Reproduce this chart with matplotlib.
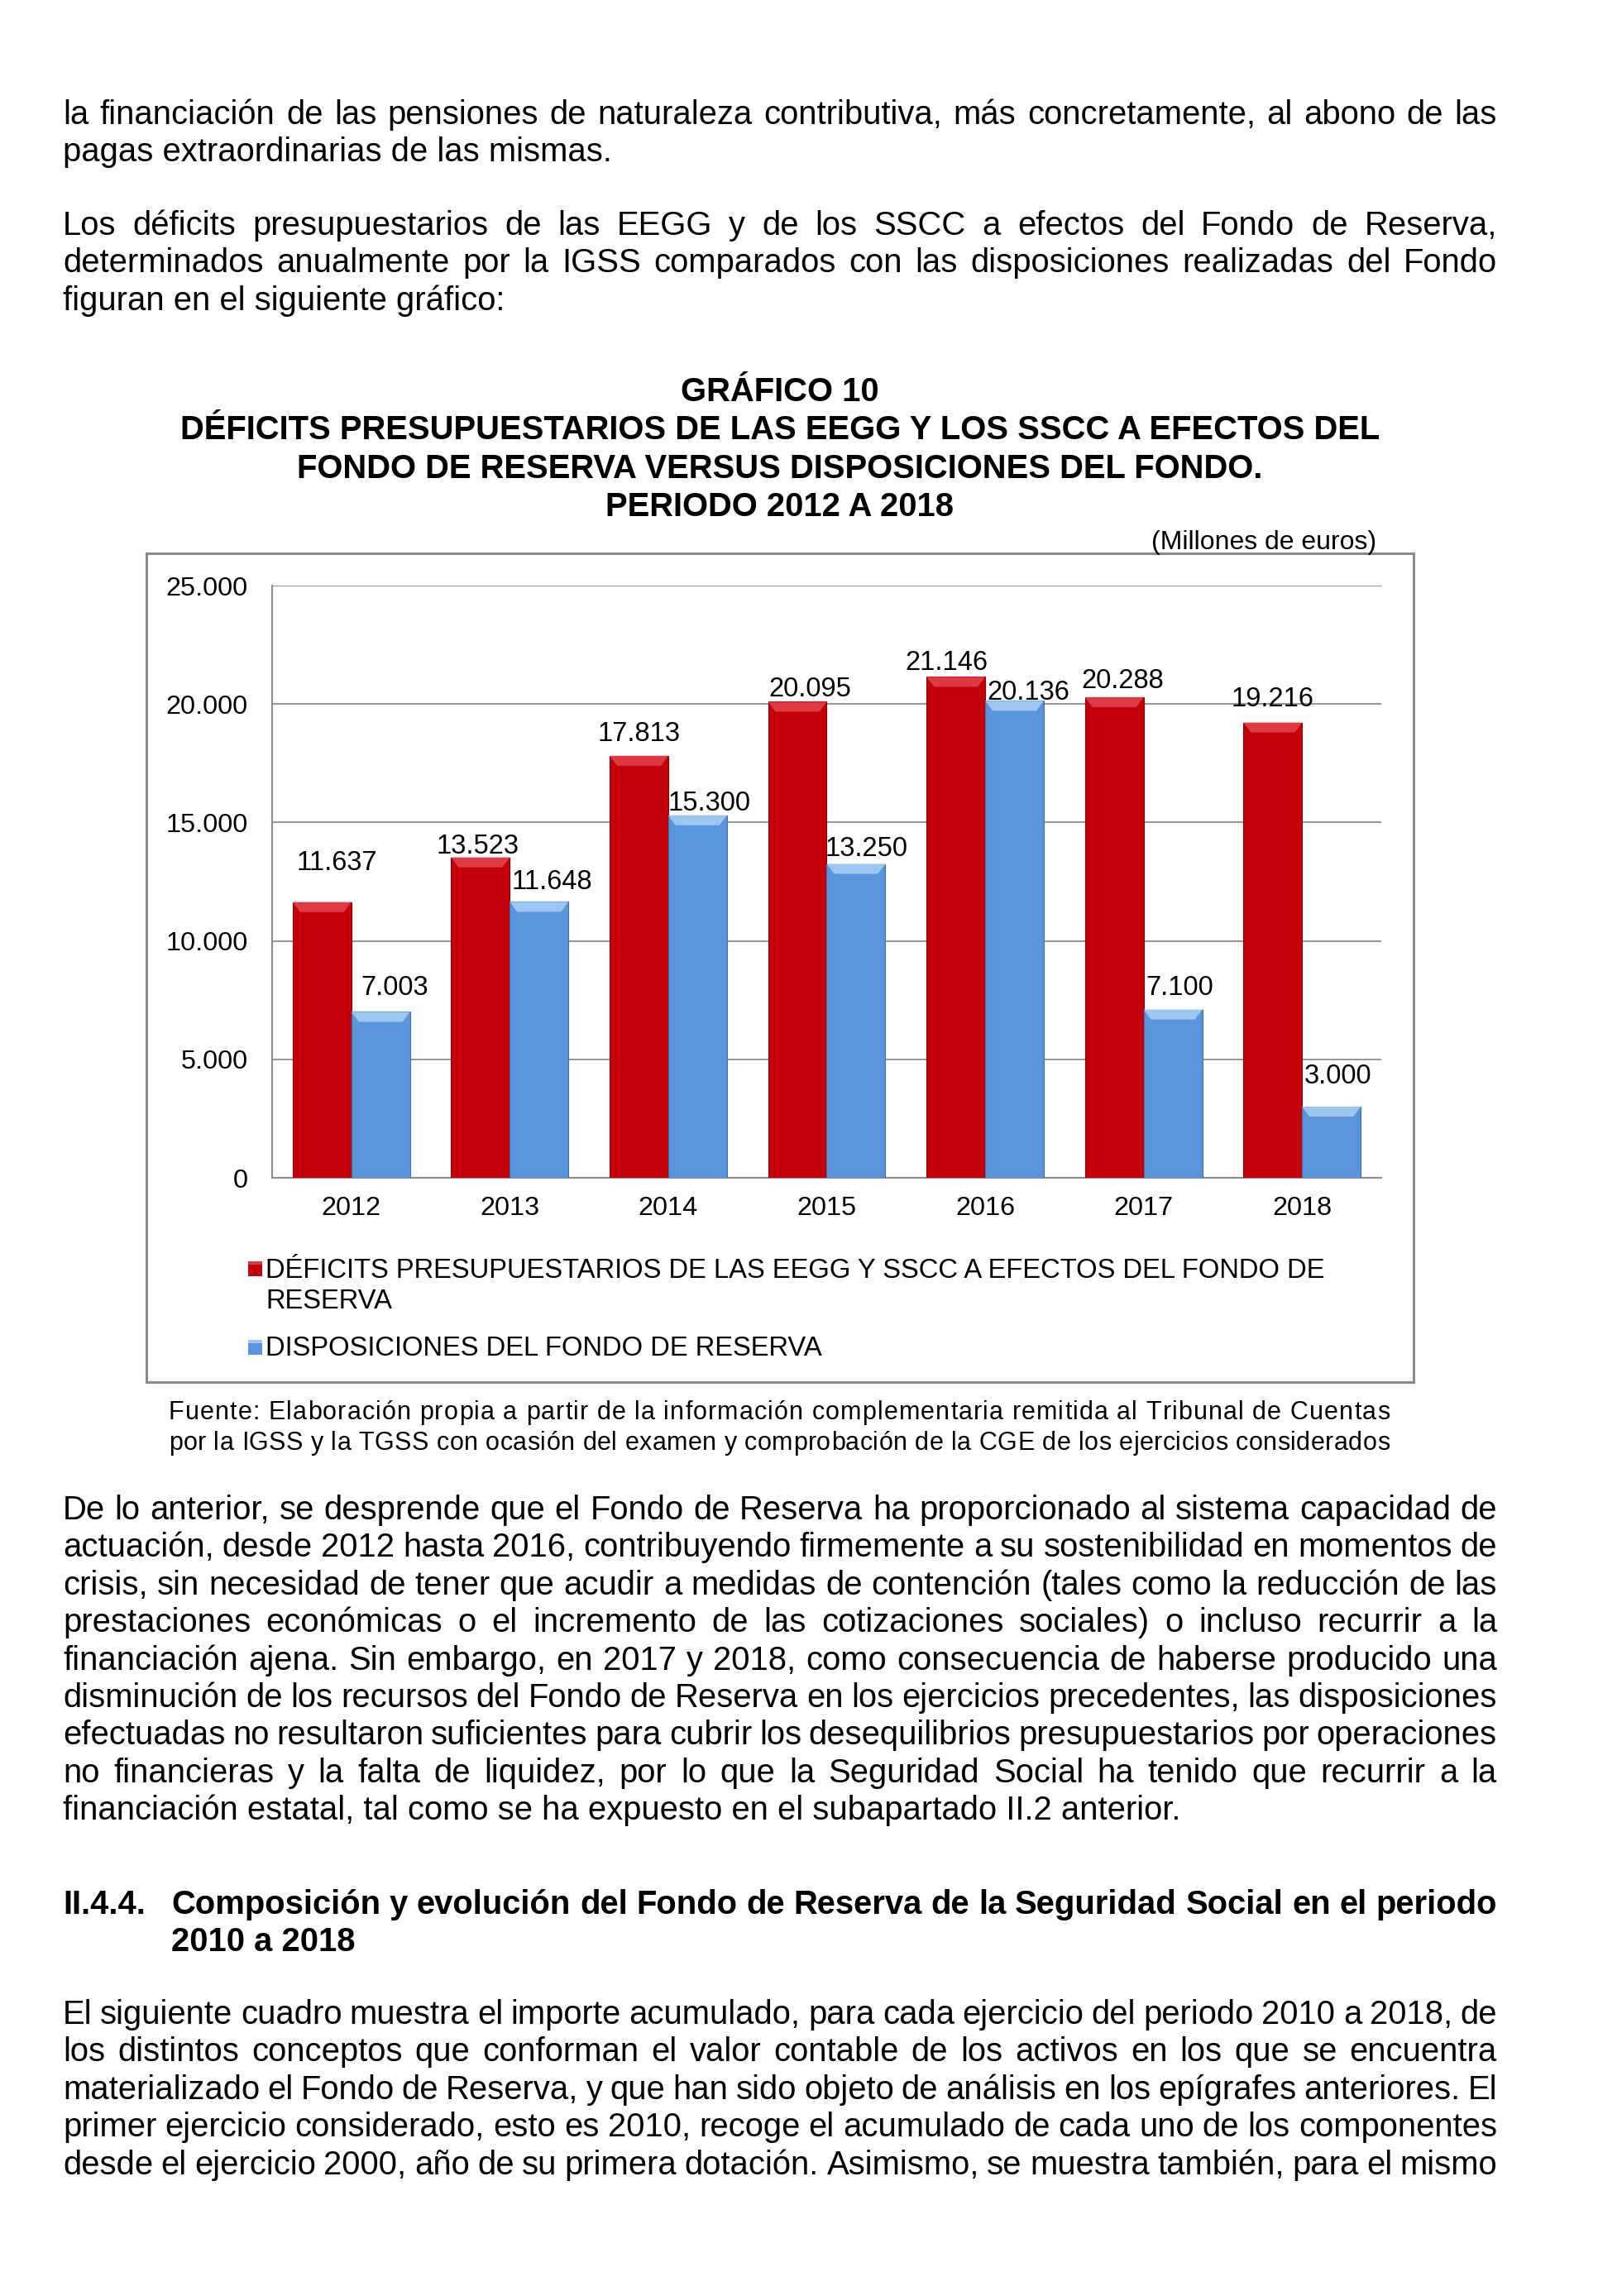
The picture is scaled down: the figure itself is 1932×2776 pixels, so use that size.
import matplotlib
matplotlib.use('Agg')
import matplotlib.pyplot as plt
import numpy as np
from matplotlib.patches import Rectangle, Polygon
from matplotlib.font_manager import findfont, FontProperties
from matplotlib.ft2font import FT2Font

plt.rcParams['font.family'] = ['Liberation Sans', 'DejaVu Sans']

# ---- chart data (millones de euros)
years = ['2012', '2013', '2014', '2015', '2016', '2017', '2018']
deficits = [11637, 13523, 17813, 20095, 21146, 20288, 19216]
disposiciones = [7003, 11648, 15300, 13250, 20136, 7100, 3000]
y_ticks = [0, 5000, 10000, 15000, 20000, 25000]

serie_deficit = 'DÉFICITS PRESUPUESTARIOS DE LAS EEGG Y SSCC A EFECTOS DEL FONDO DE'
serie_deficit_2 = 'RESERVA'
serie_dispos = 'DISPOSICIONES DEL FONDO DE RESERVA'

# label nudges (pixels) as placed in the original chart
red_nudge = [(18, -50), (-3, -16), (0, -29), (15, -18), (-11, -20), (10, -22), (0, -31)]
blue_nudge = [(17, -32), (16, -27), (14, -17), (13, -21), (17, -13), (8, -29), (8, -40)]

# ---- page text
para1 = ['la financiación de las pensiones de naturaleza contributiva, más concretamente, al abono de las',
         'pagas extraordinarias de las mismas.']
para2 = ['Los déficits presupuestarios de las EEGG y de los SSCC a efectos del Fondo de Reserva,',
         'determinados anualmente por la IGSS comparados con las disposiciones realizadas del Fondo',
         'figuran en el siguiente gráfico:']
titulo = ['GRÁFICO 10',
          'DÉFICITS PRESUPUESTARIOS DE LAS EEGG Y LOS SSCC A EFECTOS DEL',
          'FONDO DE RESERVA VERSUS DISPOSICIONES DEL FONDO.',
          'PERIODO 2012 A 2018']
fuente = ['Fuente: Elaboración propia a partir de la información complementaria remitida al Tribunal de Cuentas',
          'por la IGSS y la TGSS con ocasión del examen y comprobación de la CGE de los ejercicios considerados']
para3 = ['De lo anterior, se desprende que el Fondo de Reserva ha proporcionado al sistema capacidad de',
         'actuación, desde 2012 hasta 2016, contribuyendo firmemente a su sostenibilidad en momentos de',
         'crisis, sin necesidad de tener que acudir a medidas de contención (tales como la reducción de las',
         'prestaciones económicas o el incremento de las cotizaciones sociales) o incluso recurrir a la',
         'financiación ajena. Sin embargo, en 2017 y 2018, como consecuencia de haberse producido una',
         'disminución de los recursos del Fondo de Reserva en los ejercicios precedentes, las disposiciones',
         'efectuadas no resultaron suficientes para cubrir los desequilibrios presupuestarios por operaciones',
         'no financieras y la falta de liquidez, por lo que la Seguridad Social ha tenido que recurrir a la',
         'financiación estatal, tal como se ha expuesto en el subapartado II.2 anterior.']
heading = ['Composición y evolución del Fondo de Reserva de la Seguridad Social en el periodo',
           '2010 a 2018']
para4 = ['El siguiente cuadro muestra el importe acumulado, para cada ejercicio del periodo 2010 a 2018, de',
         'los distintos conceptos que conforman el valor contable de los activos en los que se encuentra',
         'materializado el Fondo de Reserva, y que han sido objeto de análisis en los epígrafes anteriores. El',
         'primer ejercicio considerado, esto es 2010, recoge el acumulado de cada uno de los componentes',
         'desde el ejercicio 2000, año de su primera dotación. Asimismo, se muestra también, para el mismo']

W, H = 1933, 2776
fig = plt.figure(figsize=(W / 100, H / 100), dpi=100)
renderer = fig.canvas.get_renderer()

page = fig.add_axes([0, 0, 1, 1])
page.set_xlim(0, W)
page.set_ylim(H, 0)
page.axis('off')

BODY = 28.8
LEFT, RIGHT = 76, 1810
LEAD = 45.4


def line(s, x0, x1, y, size, weight='normal', justify=True):
    if not justify:
        page.text(x0, y, s, fontsize=size, fontweight=weight, va='baseline', ha='left')
        return
    words = s.split(' ')
    arts, widths = [], []
    for w in words:
        t = page.text(0, y, w, fontsize=size, fontweight=weight, va='baseline', ha='left')
        arts.append(t)
        widths.append(t.get_window_extent(renderer).width)
    gap = (x1 - x0 - sum(widths)) / max(len(words) - 1, 1)
    x = x0
    for t, wd in zip(arts, widths):
        t.set_x(x)
        x += wd + gap


def tracked_line(s, x0, x1, y, size):
    # condensed letter spacing, as in the source note of the original
    font = FT2Font(findfont(FontProperties(family='Liberation Sans')))
    font.set_size(size, 100)
    adv = []
    for c in s:
        g = font.load_char(ord(c))
        adv.append(g.linearHoriAdvance / 65536.0)
    track = (x1 - x0 - sum(adv[:-1]) - adv[-1]) / (len(s) - 1)
    x = x0
    for c, a in zip(s, adv):
        if c != ' ':
            page.text(x, y, c, fontsize=size, va='baseline', ha='left')
        x += a + track


def paragraph(lines, y0, last_full=False, size=BODY, x0=LEFT, x1=RIGHT, lead=LEAD):
    for i, s in enumerate(lines):
        just = last_full or i < len(lines) - 1
        line(s, x0, x1, y0 + i * lead, size, justify=just)


paragraph(para1, 150)
paragraph(para2, 284)

for i, s in enumerate(titulo):
    page.text(943, 485 + i * 46.3, s, fontsize=28.8, fontweight='bold', ha='center', va='baseline')
page.text(1664, 664, '(Millones de euros)', fontsize=23, ha='right', va='baseline')

# chart frame
page.add_patch(Rectangle((177, 669), 1709 - 177, 1671 - 669, fill=False,
                         edgecolor='#8a8a8a', lw=2.2))

# ---- bar chart
ax = fig.add_axes([329 / W, 1 - 1424 / H, (1670 - 329) / W, (1424 - 708) / H])
x = np.arange(len(years))
bw = 0.37
red, blue = '#C4000A', '#5A94DA'
b1 = ax.bar(x - bw / 2, deficits, bw, color=red, edgecolor='#8f0008', lw=0.8, zorder=3)
b2 = ax.bar(x + bw / 2, disposiciones, bw, color=blue, edgecolor='#3f6fa8', lw=0.8, zorder=3)

ymax = y_ticks[-1]
bev = 12 * ymax / 716.0
ins = 9 / 191.6
for bars, light in ((b1, '#DE3A44'), (b2, '#9CC7F0')):
    for r in bars:
        bx, bwid, bh = r.get_x(), r.get_width(), r.get_height()
        ax.add_patch(Polygon([(bx, bh), (bx + bwid, bh), (bx + bwid - ins, bh - bev), (bx + ins, bh - bev)],
                             closed=True, facecolor=light, edgecolor='none', zorder=4))

fmt = lambda v: f'{int(v):,}'.replace(',', '.')
for bars, vals, nudge in ((b1, deficits, red_nudge), (b2, disposiciones, blue_nudge)):
    for r, v, (dx, dy) in zip(bars, vals, nudge):
        ax.annotate(fmt(v), (r.get_x() + r.get_width() / 2, v), xytext=(dx, -dy - 11.5),
                    textcoords='offset pixels', ha='center', va='baseline', fontsize=23.5, zorder=5)

ax.set_xlim(-0.5, len(years) - 0.5)
ax.set_ylim(0, ymax)
ax.set_yticks(y_ticks)
ax.set_yticklabels([fmt(v) for v in y_ticks])
ax.set_xticks(x)
ax.set_xticklabels(years)
ax.tick_params(axis='y', length=0, pad=21, labelsize=23.3)
ax.tick_params(axis='x', length=0, pad=16, labelsize=23.3)
ax.yaxis.grid(True, color='#8c8c8c', lw=1.3)
ax.set_axisbelow(True)
for s in ('top', 'right'):
    ax.spines[s].set_visible(False)
for s in ('left', 'bottom'):
    ax.spines[s].set_color('#8c8c8c')
    ax.spines[s].set_linewidth(1.5)

# legend drawn on the page
for ymk, col, light in ((1525, red, '#DE3A44'), (1620, blue, '#9CC7F0')):
    page.add_patch(Rectangle((300, ymk), 17, 18, facecolor=col, edgecolor='none'))
    page.add_patch(Rectangle((300, ymk), 17, 4, facecolor=light, edgecolor='none'))
page.text(321, 1545, serie_deficit, fontsize=23.6, va='baseline')
page.text(321, 1582, serie_deficit_2, fontsize=23.6, va='baseline')
page.text(321, 1639, serie_dispos, fontsize=23.6, va='baseline')

# source note (condensed type, justified)
for i, s in enumerate(fuente):
    tracked_line(s, 204, 1680, 1716 + i * 37, 22.0)

paragraph(para3, 1837)

page.text(LEFT, 2314, 'II.4.4.', fontsize=BODY, fontweight='bold', va='baseline')
line(heading[0], 207, RIGHT, 2314, BODY, weight='bold')
line(heading[1], 207, RIGHT, 2314 + LEAD, BODY, weight='bold', justify=False)

paragraph(para4, 2447, last_full=True)

fig.savefig('out.png', dpi=100, facecolor='white')
